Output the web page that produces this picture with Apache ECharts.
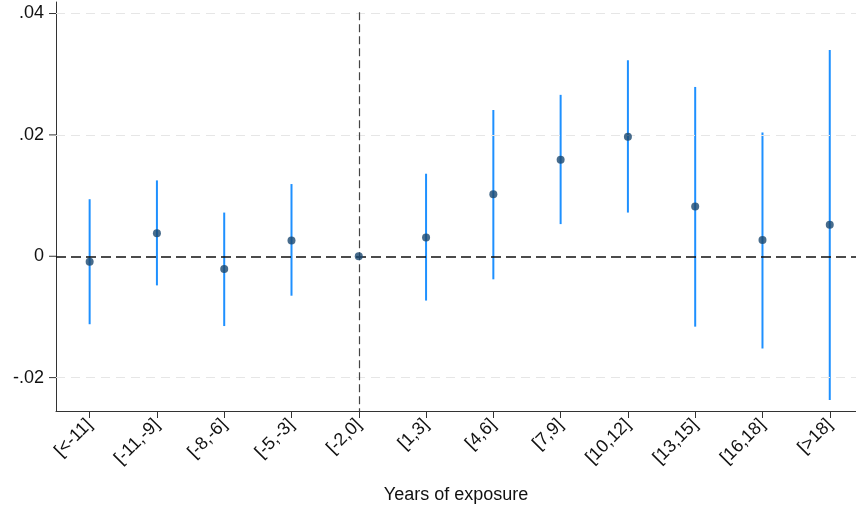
<!DOCTYPE html>
<html>
<head>
<meta charset="utf-8">
<script src="https://cdn.jsdelivr.net/npm/echarts@6/dist/echarts.min.js"></script>
<style>
  html, body { margin: 0; padding: 0; background: #fff; }
  #chart { width: 856px; height: 508px; }
</style>
</head>
<body>
<div id="chart"></div>
<script>
// Event-study estimates by exposure bin, with 95% confidence intervals
const categories = ['[<-11]', '[-11,-9]', '[-8,-6]', '[-5,-3]', '[-2,0]', '[1,3]',
                    '[4,6]', '[7,9]', '[10,12]', '[13,15]', '[16,18]', '[>18]'];
const estimates = [-0.0009, 0.0038, -0.0021, 0.0026, 0.0, 0.0031,
                   0.0102, 0.0159, 0.0197, 0.0082, 0.0027, 0.0052];
const ciLower = [-0.0112, -0.0048, -0.0115, -0.0065, null, -0.0073,
                 -0.0038, 0.0053, 0.0072, -0.0116, -0.0152, -0.0237];
const ciUpper = [0.0094, 0.0125, 0.0072, 0.0119, null, 0.0136,
                 0.0241, 0.0266, 0.0323, 0.0279, 0.0204, 0.0340];
const yTicks = [-0.02, 0, 0.02, 0.04];
const yTickLabels = ['-.02', '0', '.02', '.04'];
const referenceBin = 5;   // position of the omitted [-2,0] bin

const positions = categories.map((_, i) => i + 1);
const xMin = 0.5, xMax = 12.39;
const yMin = -0.0255, yMax = 0.0419;
const font = 'Liberation Sans, Arial, sans-serif';
const TICK_LEN = 7;

const pointData = positions.map((x, i) => [x, estimates[i]]);
const ciData = positions
  .map((x, i) => [x, ciLower[i], ciUpper[i]])
  .filter(d => d[1] !== null);

const chart = echarts.init(document.getElementById('chart'), null, { renderer: 'canvas' });

chart.setOption({
  animation: false,
  backgroundColor: '#ffffff',
  grid: { left: 56, right: 0, top: 2, bottom: 97, containLabel: false, outerBoundsMode: 'none' },
  xAxis: {
    type: 'value',
    min: xMin,
    max: xMax,
    name: 'Years of exposure',
    nameLocation: 'middle',
    nameGap: 75,
    nameTextStyle: { fontFamily: font, fontSize: 18, color: '#111' },
    axisLine: { show: true, onZero: false, lineStyle: { color: '#333', width: 1 } },
    axisTick: { show: true, length: TICK_LEN, customValues: positions, lineStyle: { color: '#333', width: 1 } },
    axisLabel: {
      customValues: positions,
      rotate: 45,
      margin: 11,
      fontFamily: font,
      fontSize: 18,
      color: '#111',
      formatter: v => categories[Math.round(v) - 1] || ''
    },
    splitLine: { show: false }
  },
  yAxis: {
    type: 'value',
    min: yMin,
    max: yMax,
    axisLine: { show: true, onZero: false, lineStyle: { color: '#333', width: 1 } },
    axisTick: { show: false },
    axisLabel: {
      customValues: yTicks,
      margin: 12,
      fontFamily: font,
      fontSize: 18,
      color: '#111',
      formatter: v => {
        const k = yTicks.findIndex(t => Math.abs(t - v) < 1e-9);
        return k >= 0 ? yTickLabels[k] : '';
      }
    },
    splitLine: { show: false }
  },
  series: [
    {
      // light dashed horizontal gridlines
      type: 'line',
      data: [],
      silent: true,
      markLine: {
        silent: true,
        symbol: 'none',
        label: { show: false },
        lineStyle: { color: '#e6e6e6', type: [9, 6], width: 1.2 },
        data: yTicks.filter(t => t !== 0).map(t => ({ yAxis: t }))
      }
    },
    {
      // zero line and reference-period line
      type: 'line',
      data: [],
      silent: true,
      z: 3,
      markLine: {
        silent: true,
        symbol: 'none',
        label: { show: false },
        data: [
          { yAxis: 0, lineStyle: { color: '#111', type: [10, 5], width: 1.5 } },
          [
            { coord: [referenceBin, 0.0402], lineStyle: { color: '#444', type: [8, 4], width: 1.2 } },
            { coord: [referenceBin, yMin] }
          ]
        ]
      }
    },
    {
      // confidence interval spikes
      type: 'custom',
      z: 4,
      data: ciData,
      renderItem: (params, api) => {
        const top = api.coord([api.value(0), api.value(2)]);
        const bot = api.coord([api.value(0), api.value(1)]);
        return {
          type: 'line',
          shape: { x1: top[0], y1: top[1], x2: bot[0], y2: bot[1] },
          style: { stroke: '#1e90ff', lineWidth: 2 }
        };
      }
    },
    {
      // point estimates
      type: 'scatter',
      z: 5,
      symbol: 'circle',
      symbolSize: 8,
      itemStyle: { color: '#1a476f' },
      data: pointData
    }
  ]
});

// y-axis tick marks, positioned through the chart's own y scale
const tickGraphics = yTicks.map(t => {
  const p = chart.convertToPixel({ gridIndex: 0 }, [xMin, t]);
  return {
    type: 'line',
    silent: true,
    z: 10,
    shape: { x1: p[0] - TICK_LEN, y1: p[1], x2: p[0], y2: p[1] },
    style: { stroke: '#333', lineWidth: 1 }
  };
});
chart.setOption({ graphic: tickGraphics });
</script>
</body>
</html>
